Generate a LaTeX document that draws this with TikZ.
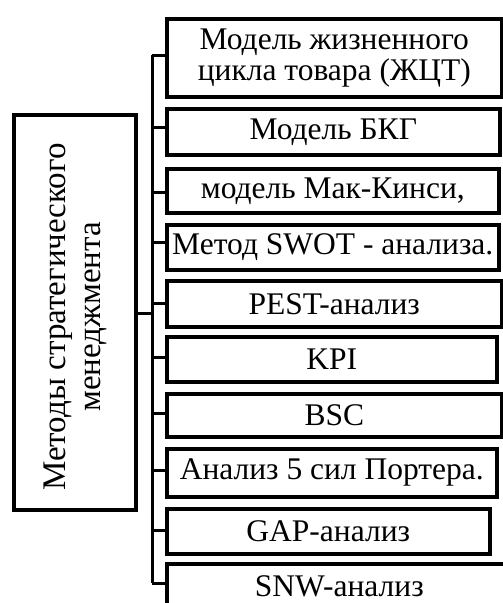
\documentclass[tikz,border=0pt]{standalone}
\usepackage{fontspec}
\setmainfont{Liberation Serif}
\begin{document}
\begin{tikzpicture}[x=1pt,y=-1pt,
  item/.style={draw,line width=3.6pt,rectangle,inner sep=0pt,align=center,
    font=\fontsize{31.5}{31}\selectfont},
  main/.style={draw,line width=3.6pt,rectangle,inner sep=0pt,align=center,
    font=\fontsize{33}{35}\selectfont},
  conn/.style={line width=3pt}]
\useasboundingbox (0,0) rectangle (503,603);
\clip (0,0) rectangle (503,603);
% left box
\node[main,minimum width=122pt,minimum height=395pt] (m) at (75,312.5) {};
\node[font=\fontsize{33}{35}\selectfont,rotate=90,align=center,inner sep=0pt] (mt) at (75,317)
  {Методы стратегического\\менеджмента};
% right boxes: left edge 165
\def\bx#1#2#3#4#5{\node[item,minimum width={#3-165},minimum height={#5-#4},anchor=north west] (#1) at (165,#4) {#2};}
\bx{b1}{Модель жизненного\\цикла товара (ЖЦТ)}{500}{17}{95}
\bx{b2}{Модель БКГ}{498}{107}{153}
\bx{b3}{модель Мак-Кинси,}{497}{167}{211}
\bx{b4}{Метод SWOT - анализа.}{497}{223}{268}
\bx{b5}{PEST-анализ}{500}{279}{325}
\bx{b6}{KPI}{495}{335}{380}
\bx{b7}{BSC}{500}{392}{435}
\bx{b8}{Анализ 5 сил Портера.}{495}{447}{495}
\bx{b9}{GAP-анализ}{488}{507}{552}
\bx{b10}{SNW-анализ}{510}{562}{608}
% trunk
\coordinate (t1) at (152,55);
\coordinate (t10) at (152,583);
\draw[conn] (t1) -- (t10);
\draw[conn] (m.east |- 0,313) -- (152,313);
\foreach \n/\y in {b1/55,b2/127,b3/192,b4/242,b5/303,b6/357,b7/413,b8/470,b9/530,b10/583}{
  \draw[conn] (152,\y) -- (\n.west |- 0,\y);
}
\end{tikzpicture}
\end{document}
